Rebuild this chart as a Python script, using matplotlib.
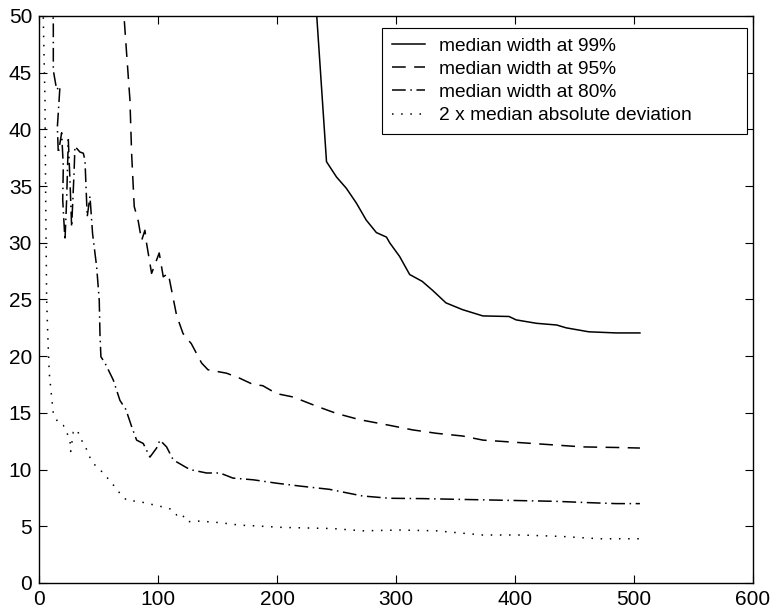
import matplotlib
matplotlib.use("Agg")
import matplotlib.pyplot as plt

plt.rcParams['font.family'] = ['Liberation Sans', 'DejaVu Sans']

### Curves (x = sample size, y = width)
x99 = [232, 233.4, 241.6, 250, 258.3, 266.7, 275, 283.5, 292, 294.7, 303, 311.5,
       322, 330.8, 342, 356, 373, 395, 401, 418, 435, 443, 462, 485, 505]
y99 = [60, 50, 37.15, 35.8, 34.8, 33.5, 32.0, 30.9, 30.5, 30.0, 28.8, 27.2,
       26.6, 25.8, 24.7, 24.1, 23.55, 23.5, 23.2, 22.9, 22.75, 22.5, 22.15, 22.05, 22.05]

x95 = [70, 71.4, 73.6, 76.4, 77.8, 80, 83.4, 86.2, 89, 90, 94.6, 101, 104.4, 108.6,
       115.6, 121, 128, 136.6, 142, 157.6, 168.8, 180, 188, 199.6, 213.6, 233, 250,
       269.5, 294.7, 314, 334, 356, 373, 401, 429, 457, 485, 505]
y95 = [60, 50, 46.7, 42.6, 37.9, 33.2, 31.9, 30.2, 31.1, 30.2, 27.3, 29.1, 27.0, 27.3,
       23.6, 22.0, 21.1, 19.4, 18.8, 18.5, 18.05, 17.5, 17.4, 16.7, 16.4, 15.6, 14.95,
       14.4, 13.9, 13.5, 13.2, 12.96, 12.6, 12.4, 12.2, 12.0, 11.95, 11.9]

x80 = [11, 12, 12, 14.8, 17.6, 15.4, 16.2, 19, 20.4, 19.9, 21.8, 23.2, 24.6, 26, 27.4,
       29.4, 30.2, 34.4, 37.2, 38.6, 40.5, 42.8, 45, 48.4, 50.6, 51.2, 52, 55.4, 62.4,
       68, 73, 77.8, 82, 87.6, 93.2, 98.8, 101.6, 107.2, 112.8, 126.8, 140.8, 152, 163,
       180, 199.6, 219, 244, 261, 272, 294.7, 322.6, 350.6, 379, 406.6, 434.6, 463, 485, 505]
y80 = [58, 49.1, 45.2, 43.5, 43.8, 40.2, 37.9, 39.7, 36.7, 33.8, 30.2, 33.8, 39.1, 35.5, 31.4,
       36.1, 38.5, 38.0, 37.9, 37.3, 32.3, 34.1, 30.8, 27.9, 24.95, 22.0, 19.95, 19.4, 17.9,
       16.1, 15.3, 13.8, 12.6, 12.3, 11.1, 11.9, 12.6, 12.0, 10.85, 10.0, 9.7, 9.7, 9.25,
       9.1, 8.8, 8.55, 8.26, 7.9, 7.67, 7.47, 7.44, 7.38, 7.32, 7.26, 7.2, 7.08, 7.0, 7.0]

xmad = [3, 3.6, 5, 5.6, 6.4, 7.3, 8.6, 10.6, 12, 16.2, 20.4, 23.2, 26, 26.6, 28.8, 32.2,
        34.4, 38.6, 41.4, 47, 54, 62.4, 68, 73.6, 84.8, 96, 104.4, 111.4, 115.6, 119.8,
        124, 135, 152, 168.8, 182.8, 205, 247, 272, 303, 334, 373, 406.6, 440, 471, 505]
ymad = [60, 49.6, 42.6, 33.8, 25, 22.0, 18.5, 16.4, 14.95, 14.1, 13.9, 13.3, 12.6, 11.6, 13.3,
        13.55, 12.75, 12.2, 11.3, 10.4, 9.7, 8.65, 7.9, 7.3, 7.17, 6.9, 6.7, 6.5, 6.0, 6.15,
        5.4, 5.46, 5.32, 5.1, 5.03, 4.9, 4.8, 4.6, 4.67, 4.6, 4.23, 4.23, 4.1, 3.9, 3.9]

labels = ["median width at 99%", "median width at 95%",
          "median width at 80%", "2 x median absolute deviation"]

fig = plt.figure(figsize=(7.76, 6.14), dpi=100)
ax = fig.add_axes([0.0503, 0.0505, 0.920, 0.9235])

ax.plot(x99, y99, c='black', lw=1.1, label=labels[0])
ax.plot(x95, y95, c='black', lw=1.1, dashes=(9, 5.5), label=labels[1])
ax.plot(x80, y80, c='black', lw=1.1, dashes=(9, 3, 1, 3), label=labels[2])
ax.plot(xmad, ymad, c='black', lw=1.1, dashes=(1, 5), label=labels[3])

#Axis settings, matlab style box with ticks on every side
ax.set_xlim(0, 600)
ax.set_ylim(0, 50)
ax.set_xticks(range(0, 601, 100))
ax.set_yticks(range(0, 51, 5))
ax.tick_params(direction='in', length=6, width=0.8, top=True, right=True,
               labelsize=15, pad=5)
for s in ax.spines.values():
    s.set_linewidth(1.0)

#legend box is wider than its text in the original, so expand it
leg = ax.legend(loc='upper right', bbox_to_anchor=(0.4804, 0.5, 0.5112, 0.479),
                mode='expand', fontsize=13.8,
                fancybox=False, edgecolor='black', framealpha=1, handlelength=1.75,
                handletextpad=0.75, borderpad=0.5, labelspacing=0.3, borderaxespad=0)
leg.get_frame().set_linewidth(0.8)

plt.savefig("out.png", dpi=100)
